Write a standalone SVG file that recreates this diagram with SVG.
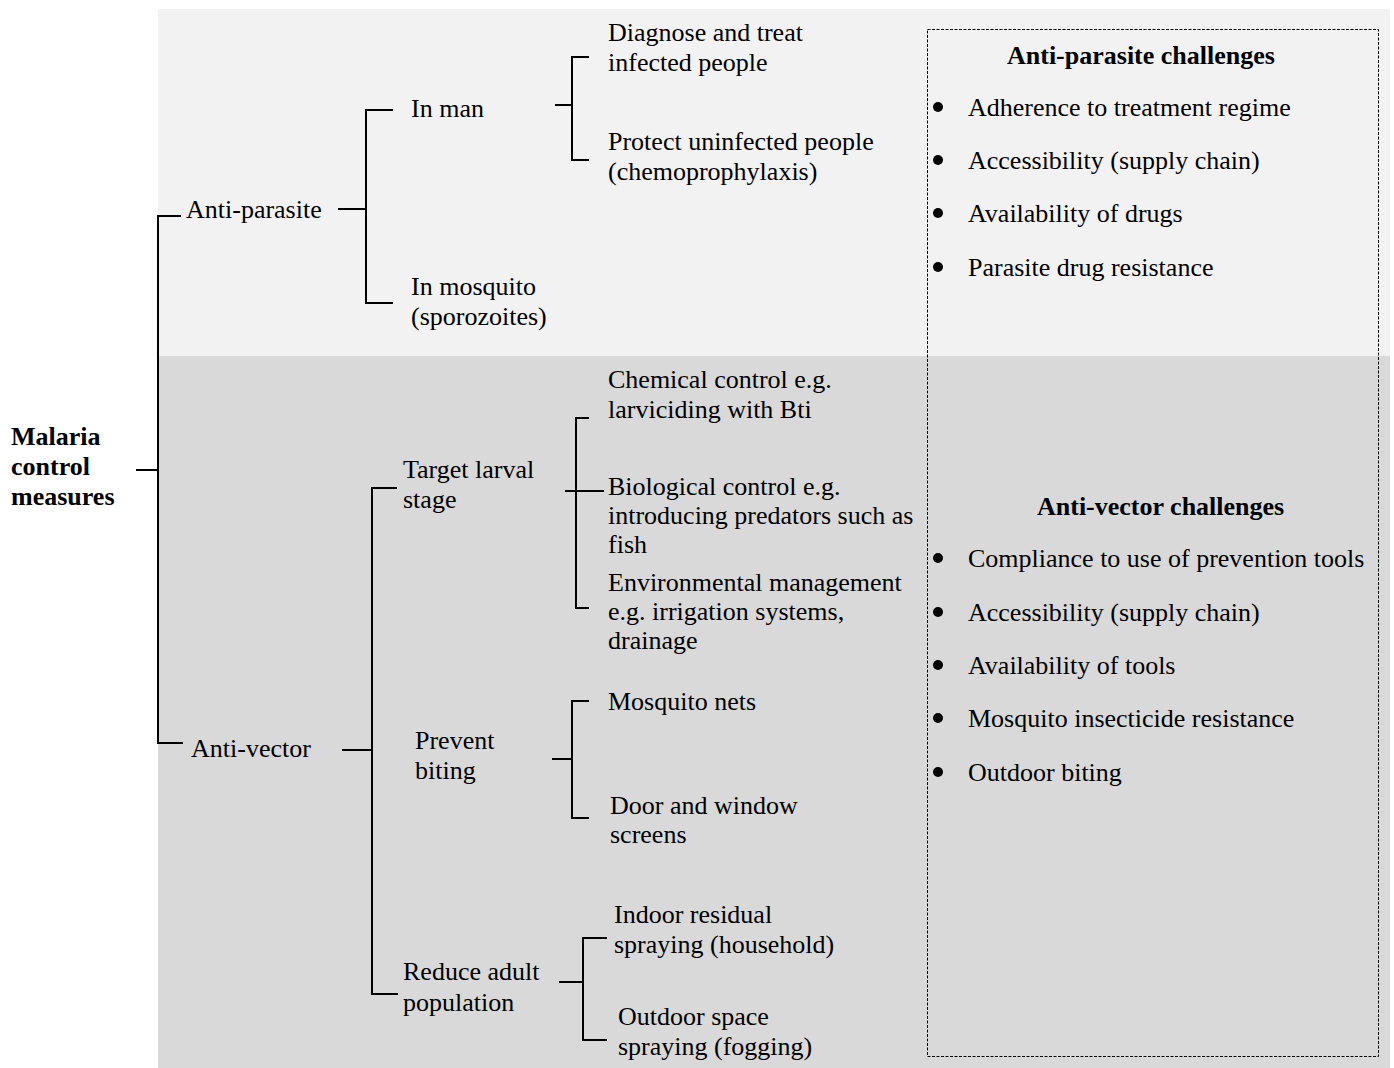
<svg xmlns="http://www.w3.org/2000/svg" width="1394" height="1068" viewBox="0 0 1394 1068">
<style>
text{font-family:"Liberation Serif","Times New Roman",serif;font-size:26px;fill:#000}
.b{font-weight:bold}
.c line, .c path{stroke:#000;stroke-width:2;fill:none}
.bul{fill:#000}
</style>
<rect x="0" y="0" width="1394" height="1068" fill="#fff"/>
<rect id="panel-parasite" x="158" y="9" width="1232" height="347" fill="#f2f2f2"/>
<rect id="panel-vector" x="158" y="356" width="1232" height="712" fill="#d9d9d9"/>
<rect id="challenges-box" x="927.5" y="29.5" width="451" height="1027" fill="none" stroke="#000" stroke-width="1" stroke-dasharray="3 1.5"/>

<g class="c" id="connectors">
  <line x1="136" y1="470" x2="158" y2="470"/>
  <path d="M181 216H158V743H183"/>
  <line x1="338" y1="209" x2="366" y2="209"/>
  <path d="M393 110H366V303H393"/>
  <line x1="555" y1="105" x2="572" y2="105"/>
  <path d="M589 57H572V160H589"/>
  <line x1="342" y1="750" x2="372" y2="750"/>
  <path d="M397 488H372V994H398"/>
  <line x1="565" y1="491" x2="604" y2="491"/>
  <path d="M589 418H576V608H589"/>
  <line x1="552" y1="759" x2="572" y2="759"/>
  <path d="M589 701H572V818H589"/>
  <line x1="559" y1="982" x2="583" y2="982"/>
  <path d="M607 938H583V1040H607"/>
</g>

<g id="root"><text class="b" x="11" y="445">Malaria</text><text class="b" x="11" y="475">control</text><text class="b" x="11" y="505">measures</text></g>
<g id="anti-parasite"><text x="186" y="218">Anti-parasite</text></g>
<g id="in-man"><text x="411" y="117">In man</text></g>
<g id="in-mosquito"><text x="411" y="295">In mosquito</text><text x="411" y="325">(sporozoites)</text></g>
<g id="diagnose"><text x="608" y="41">Diagnose and treat</text><text x="608" y="71">infected people</text></g>
<g id="protect"><text x="608" y="150">Protect uninfected people</text><text x="608" y="180">(chemoprophylaxis)</text></g>

<g id="anti-vector"><text x="191" y="757">Anti-vector</text></g>
<g id="target-larval"><text x="403" y="478">Target larval</text><text x="403" y="508">stage</text></g>
<g id="chemical"><text x="608" y="388">Chemical control e.g.</text><text x="608" y="418">larviciding with Bti</text></g>
<g id="biological"><text x="608" y="495">Biological control e.g.</text><text x="608" y="524">introducing predators such as</text><text x="608" y="553">fish</text></g>
<g id="environmental"><text x="608" y="591">Environmental management</text><text x="608" y="620">e.g. irrigation systems,</text><text x="608" y="649">drainage</text></g>
<g id="prevent-biting"><text x="415" y="749">Prevent</text><text x="415" y="779">biting</text></g>
<g id="mosquito-nets"><text x="608" y="710">Mosquito nets</text></g>
<g id="door-window"><text x="610" y="814">Door and window</text><text x="610" y="843">screens</text></g>
<g id="reduce-adult"><text x="403" y="980">Reduce adult</text><text x="403" y="1011">population</text></g>
<g id="indoor"><text x="614" y="923">Indoor residual</text><text x="614" y="953">spraying (household)</text></g>
<g id="outdoor"><text x="618" y="1025">Outdoor space</text><text x="618" y="1055">spraying (fogging)</text></g>

<g id="parasite-challenges">
  <text class="b" x="1007" y="64">Anti-parasite challenges</text>
  <circle class="bul" cx="938" cy="107" r="5"/><text x="968" y="116">Adherence to treatment regime</text>
  <circle class="bul" cx="938" cy="160" r="5"/><text x="968" y="169">Accessibility (supply chain)</text>
  <circle class="bul" cx="938" cy="213" r="5"/><text x="968" y="222">Availability of drugs</text>
  <circle class="bul" cx="938" cy="267" r="5"/><text x="968" y="276">Parasite drug resistance</text>
</g>
<g id="vector-challenges">
  <text class="b" x="1037" y="515">Anti-vector challenges</text>
  <circle class="bul" cx="938" cy="558" r="5"/><text x="968" y="567">Compliance to use of prevention tools</text>
  <circle class="bul" cx="938" cy="612" r="5"/><text x="968" y="621">Accessibility (supply chain)</text>
  <circle class="bul" cx="938" cy="665" r="5"/><text x="968" y="674">Availability of tools</text>
  <circle class="bul" cx="938" cy="718" r="5"/><text x="968" y="727">Mosquito insecticide resistance</text>
  <circle class="bul" cx="938" cy="772" r="5"/><text x="968" y="781">Outdoor biting</text>
</g>
</svg>
